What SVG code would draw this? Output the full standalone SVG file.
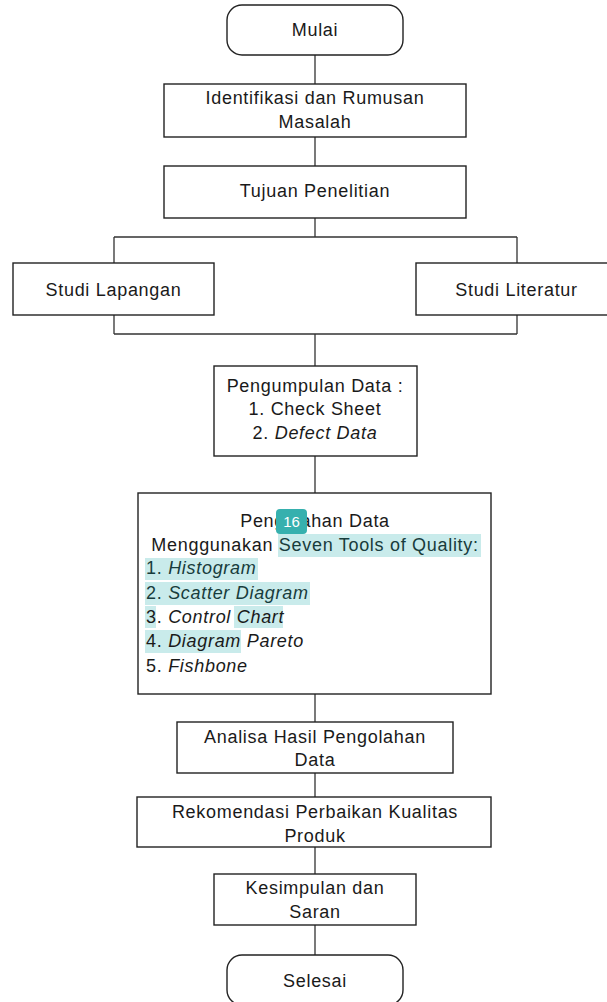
<svg xmlns="http://www.w3.org/2000/svg" width="607" height="1002" viewBox="0 0 607 1002">
<style>
.box{fill:#fff;stroke:#222;stroke-width:1.4}
.ln{fill:none;stroke:#333;stroke-width:1.3}
text{font-family:"Liberation Sans",Arial,sans-serif;font-size:18px;fill:#1a1a1a;letter-spacing:0.7px}
.c{text-anchor:middle}
.i{font-style:italic}
.hl{fill:#c9ebeb}
.t{fill:#183c3c}
</style>
<rect width="607" height="1002" fill="#fff"/>
<g id="connectors">
<path class="ln" d="M315 55V84M315 137V166M315 218V237M114 237H517M114 237V263M517 237V263M114 315V334M517 315V334M114 334H517M315 334V366M315 456V493M315 694V722M315 773V797M315 847V874M315 925V955"/>
</g>
<g id="mulai"><rect class="box" x="227" y="5" width="176" height="50" rx="15"/><text class="c" x="315" y="36">Mulai</text></g>
<g id="identifikasi"><rect class="box" x="164" y="84" width="302" height="53"/><text class="c" x="315" y="104">Identifikasi dan Rumusan</text><text class="c" x="315" y="128">Masalah</text></g>
<g id="tujuan"><rect class="box" x="164" y="166" width="302" height="52"/><text class="c" x="315" y="197">Tujuan Penelitian</text></g>
<g id="studi-lapangan"><rect class="box" x="13" y="263" width="201" height="52"/><text class="c" x="113.5" y="296">Studi Lapangan</text></g>
<g id="studi-literatur"><rect class="box" x="416" y="263" width="201" height="52"/><text class="c" x="516.5" y="296">Studi Literatur</text></g>
<g id="pengumpulan"><rect class="box" x="214" y="366" width="203" height="90"/><text class="c" x="315" y="392">Pengumpulan Data :</text><text class="c" x="315" y="415">1. Check Sheet</text><text class="c" x="315" y="439">2. <tspan class="i">Defect Data</tspan></text></g>
<g id="pengolahan">
<rect class="box" x="138" y="493" width="353" height="201"/>
<rect class="hl" x="278" y="534" width="203" height="23"/>
<rect class="hl" x="145" y="558" width="113" height="22"/>
<rect class="hl" x="145" y="582" width="165" height="23"/>
<rect class="hl" x="145" y="606" width="11" height="22"/>
<rect class="hl" x="234" y="606" width="49" height="22"/>
<rect class="hl" x="145" y="630" width="96" height="23"/>
<text class="c" x="315" y="527">Pengolahan Data</text>
<text class="c" x="315" y="551">Menggunakan <tspan class="t">Seven Tools of Quality:</tspan></text>
<text x="146" y="574" class="t">1. <tspan class="i">Histogram</tspan></text>
<text x="146" y="599" class="t">2. <tspan class="i">Scatter Diagram</tspan></text>
<text x="146" y="623">3. <tspan class="i">Control Chart</tspan></text>
<text x="146" y="647">4. <tspan class="i">Diagram Pareto</tspan></text>
<text x="146" y="672">5. <tspan class="i">Fishbone</tspan></text>
<rect x="276" y="509" width="31" height="25" rx="4" fill="#36b0ae"/>
<text class="c" x="291.5" y="527" style="fill:#fff;font-size:15px;letter-spacing:0">16</text>
</g>
<g id="analisa"><rect class="box" x="177" y="722" width="276" height="51"/><text class="c" x="315" y="743">Analisa Hasil Pengolahan</text><text class="c" x="315" y="766">Data</text></g>
<g id="rekomendasi"><rect class="box" x="137" y="797" width="354" height="50"/><text class="c" x="315" y="818">Rekomendasi Perbaikan Kualitas</text><text class="c" x="315" y="842">Produk</text></g>
<g id="kesimpulan"><rect class="box" x="214" y="874" width="202" height="51"/><text class="c" x="315" y="894">Kesimpulan dan</text><text class="c" x="315" y="918">Saran</text></g>
<g id="selesai"><rect class="box" x="227" y="955" width="176" height="50" rx="15"/><text class="c" x="315" y="987">Selesai</text></g>
</svg>
